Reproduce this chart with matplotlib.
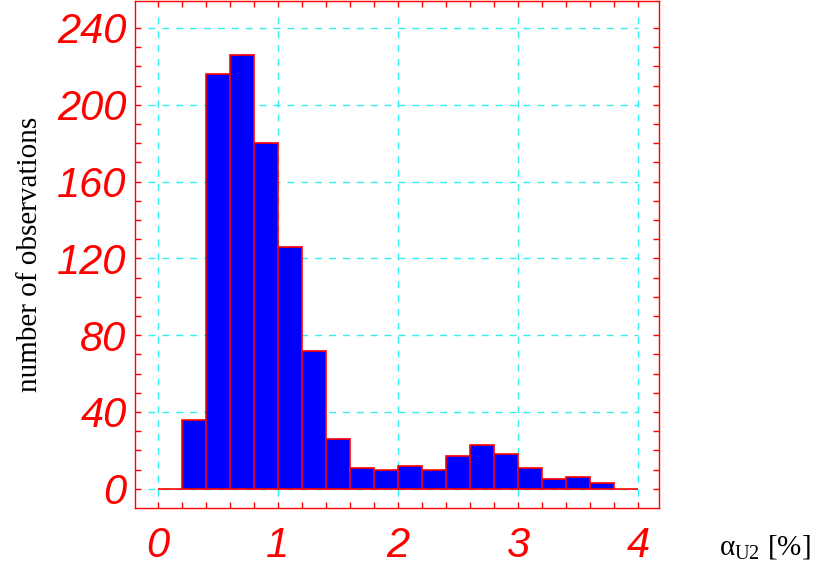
import matplotlib
matplotlib.use("Agg")
import matplotlib.pyplot as plt
import numpy as np

bin_edges = [0.0, 0.2, 0.4, 0.6, 0.8, 1.0, 1.2, 1.4, 1.6, 1.8, 2.0, 2.2, 2.4, 2.6, 2.8, 3.0, 3.2, 3.4, 3.6, 3.8, 4.0]
counts = [0, 36, 216, 226, 180, 126, 72, 26, 11, 10, 12, 10, 17, 23, 18, 11, 5, 6, 3, 0]
x_ticks = [0, 1, 2, 3, 4]
x_tick_labels = ["0", "1", "2", "3", "4"]
y_ticks = [0, 40, 80, 120, 160, 200, 240]
y_tick_labels = ["0", "40", "80", "120", "160", "200", "240"]

plt.rcParams['mathtext.fontset'] = 'custom'
plt.rcParams['mathtext.rm'] = 'Liberation Serif'
plt.rcParams['mathtext.it'] = 'Liberation Serif'

fig = plt.figure(figsize=(8.13, 5.68), dpi=100)
ax = fig.add_axes([0.166, 0.1056, 0.6445, 0.8926])

edges = np.array(bin_edges)
ax.bar(edges[:-1], counts, width=np.diff(edges), align='edge',
       color='#0000ff', edgecolor='red', linewidth=1.2, zorder=3)

ax.set_xlim(-0.19, 4.175)
ax.set_ylim(-10, 254)

# grid
dash = (0, (5, 5))
ax.hlines(y_ticks, -0.08, 4.0, colors='#33eeee', linestyles=dash, linewidth=1, zorder=1)
ax.vlines(x_ticks, -4, 246, colors='#33eeee', linestyles=dash, linewidth=1, zorder=1)

for s in ax.spines.values():
    s.set_color('red')
    s.set_linewidth(1)

ax.set_xticks(x_ticks)
ax.set_xticklabels(x_tick_labels)
ax.set_yticks(y_ticks)
ax.set_yticklabels(y_tick_labels)
ax.set_xticks(np.arange(0, 4.01, 0.2), minor=True)
ax.set_yticks(np.arange(0, 250, 10), minor=True)
ax.tick_params(which='both', direction='in', color='red', top=True, right=True,
               length=4.5, width=1)
ax.tick_params(axis='both', which='major', labelcolor='red', labelsize=30)
ax.tick_params(axis='x', which='major', pad=13)
ax.tick_params(axis='y', which='major', pad=6)
for lab in ax.get_xticklabels() + ax.get_yticklabels():
    lab.set_fontfamily('Liberation Sans')
    lab.set_fontstyle('italic')

ax.set_ylabel('number of observations', fontfamily='Liberation Serif', fontsize=21,
              color='black', labelpad=10)
fig.text(0.884, 0.023, r'$\alpha_{\mathrm{U2}}$ [%]', fontfamily='Liberation Serif',
         fontsize=21, color='black')

fig.savefig('out.png', dpi=100)
